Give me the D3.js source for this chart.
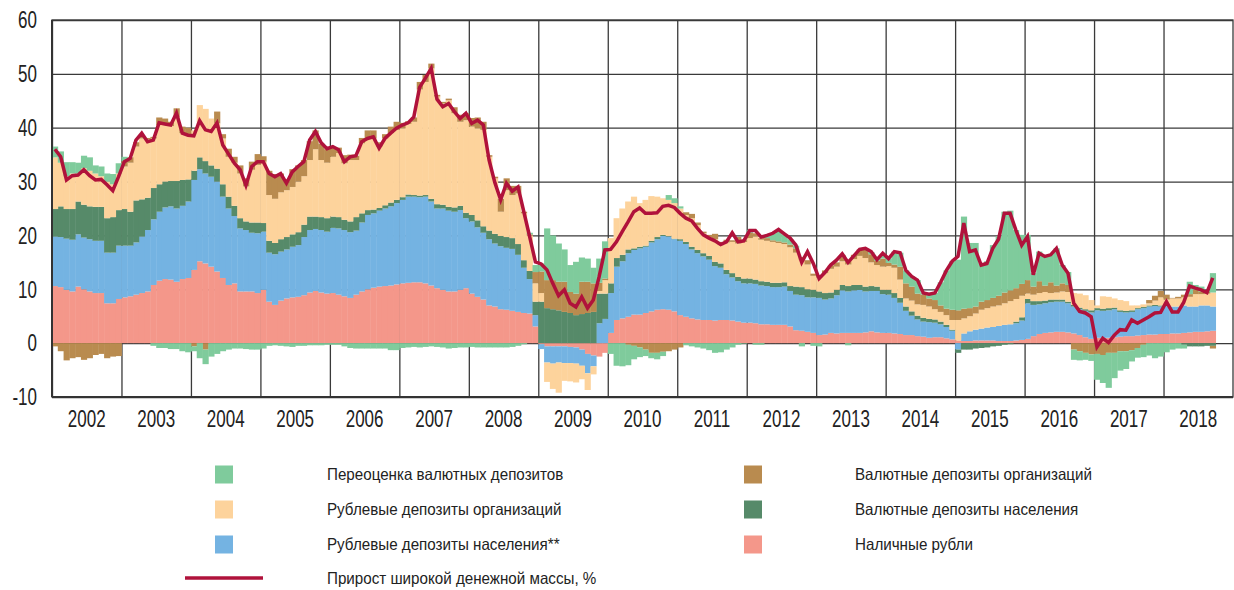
<!DOCTYPE html>
<html>
<head>
<meta charset="utf-8">
<script src="https://cdn.jsdelivr.net/npm/d3@7"></script>
<style>
  body { margin: 0; background: #fff; }
  svg { display: block; font-family: "Liberation Sans", Arial, sans-serif; }
</style>
</head>
<body>
<svg id="chart" width="1234" height="590"></svg>
<script>
// x categories: years (monthly data Jan 2002 - Sep 2018)
const years = [2002, 2003, 2004, 2005, 2006, 2007, 2008, 2009, 2010, 2011, 2012, 2013, 2014, 2015, 2016, 2017, 2018];
const yTicks = [-10, 0, 10, 20, 30, 40, 50, 60];

// contributions, p.p. (one row per year)
const cash = [
  10.6,10.4,9.9,9.6,10.5,10.0,9.6,9.3,9.3,7.4,7.4,8.2,
  8.5,8.7,9.0,9.3,9.6,10.8,11.6,11.9,11.8,11.4,11.9,12.1,
  13.6,15.2,14.8,14.2,13.3,12.1,10.8,11.1,9.6,9.6,9.6,9.3,
  9.9,7.7,7.1,7.9,8.3,8.5,8.6,8.9,9.4,9.7,9.4,9.2,
  9.3,9.0,8.7,8.4,9.0,9.6,10.0,10.3,10.5,10.6,10.7,10.9,
  11.1,11.2,11.3,11.3,11.1,10.7,10.2,9.9,9.6,9.6,9.9,10.2,
  9.2,8.6,8.1,7.0,6.8,6.3,6.2,6.0,5.8,5.6,5.5,3.1,
  -0.2,-0.6,-0.6,-0.6,-0.6,-0.7,-0.8,-1.2,-2.0,-2.3,-2.5,-1.8,
  1.9,4.3,4.6,4.9,5.3,5.3,5.6,5.9,6.2,6.3,6.2,5.9,
  5.2,4.9,4.6,4.4,4.3,4.3,4.2,4.3,4.3,4.2,4.0,3.8,
  3.8,3.7,3.5,3.5,3.4,3.4,3.4,3.1,2.4,2.3,2.1,1.9,
  1.5,1.6,1.9,1.8,1.9,1.9,1.9,1.9,2.0,2.2,2.0,1.9,
  1.9,1.8,1.7,1.5,1.5,1.3,1.2,1.0,1.1,1.1,0.9,0.7,
  0.5,0.4,0.4,0.5,0.5,0.5,0.5,0.4,0.4,0.4,0.5,0.6,
  0.8,1.3,1.7,1.9,2.0,2.1,2.1,2.0,1.8,1.5,1.1,0.8,
  1.0,1.0,1.0,1.1,1.2,1.3,1.3,1.4,1.5,1.6,1.6,1.7,
  1.7,1.8,1.8,1.9,2.0,2.1,2.1,2.2,2.3
];
const rubHouse = [
  9.2,9.3,9.5,9.6,9.7,9.6,9.7,9.7,9.7,9.4,9.4,9.9,
  9.6,9.4,9.7,10.5,11.4,12.2,12.8,13.3,13.6,13.6,13.6,14.2,
  16.7,17.1,16.7,16.7,16.7,15.1,14.2,12.5,11.7,11.4,10.9,11.1,
  10.8,9.1,9.4,9.1,9.1,9.4,9.6,10.8,11.6,11.5,11.6,11.5,
  12.1,12.3,12.3,12.2,11.9,12.8,13.8,13.8,14.1,14.4,14.7,15.1,
  15.5,16.0,15.9,15.8,16.1,15.6,14.8,15.1,15.0,14.8,14.8,13.0,
  13.4,12.9,12.4,12.3,11.7,11.7,11.5,11.5,10.6,8.4,6.4,2.1,
  -0.9,-3.0,-3.2,-3.0,-3.1,-3.0,-3.0,-3.0,-3.6,-2.0,3.7,4.5,
  7.4,9.9,10.6,11.8,12.0,12.3,12.3,12.8,13.1,13.6,13.6,13.4,
  13.8,13.5,12.8,12.3,11.8,11.2,10.1,9.7,8.5,8.0,7.5,7.3,
  7.3,7.3,7.2,7.1,7.0,7.0,7.1,6.6,6.6,6.6,6.4,6.6,
  6.9,6.5,6.4,7.1,7.9,7.7,7.9,8.0,7.6,7.5,7.7,7.2,
  7.1,6.6,5.8,4.5,3.6,3.1,2.8,2.9,2.7,2.4,2.1,1.6,
  -1.2,1.4,1.8,2.0,2.2,2.4,2.5,2.8,3.0,3.1,3.2,3.6,
  6.6,5.8,5.5,5.5,5.6,5.6,5.6,5.4,5.0,4.8,4.9,4.9,
  5.1,5.0,5.1,5.2,4.6,4.4,4.5,4.9,5.0,5.2,5.3,5.1,
  5.2,5.0,5.0,5.1,4.8,4.7,4.9,4.8,4.5
];
const fxHouse = [
  5.1,5.7,5.5,5.7,6.1,6.1,6.1,6.3,6.3,6.4,6.6,6.6,
  6.8,6.3,7.8,6.9,6.0,5.8,5.1,4.8,4.7,5.1,4.8,4.1,
  1.7,2.2,2.3,2.1,2.4,2.3,2.2,1.9,1.9,1.6,1.9,2.0,
  1.6,2.2,2.1,2.3,2.3,2.3,2.4,2.3,2.5,2.3,2.4,2.5,
  2.1,2.1,1.9,2.0,2.5,1.7,0.9,0.7,0.5,0.6,0.7,0.6,
  0.5,0.4,0.3,0.3,0.3,0.5,0.8,0.7,0.7,0.8,0.8,1.0,
  1.2,1.3,1.2,1.6,1.8,1.9,2.0,2.0,2.0,1.4,1.5,2.5,
  7.7,6.5,6.3,6.1,5.8,5.6,5.2,5.4,5.6,5.8,5.5,4.7,
  1.8,1.6,1.2,0.7,0.3,0.3,0.2,0.3,0.4,0.2,0.1,0.1,
  0.3,0.4,0.5,0.6,0.6,0.7,0.8,0.8,0.8,0.8,0.8,0.9,
  0.9,0.8,0.8,0.8,0.8,0.8,0.8,0.9,1.5,1.5,1.5,1.4,
  1.2,1.2,1.1,1.0,1.0,1.0,1.0,0.9,0.9,0.9,0.8,0.8,
  0.9,0.9,0.9,0.8,0.8,0.7,0.7,0.6,0.6,0.5,0.4,0.2,
  -0.6,-1.2,-1.2,-1.0,-0.9,-0.8,-0.6,-0.5,-0.3,-0.2,0.3,0.6,
  0.8,0.7,0.6,0.5,0.5,0.4,0.4,0.3,0.3,0.3,0.3,0.4,
  0.4,0.4,0.4,0.3,0.3,0.3,0.3,0.2,0.2,0.2,0.2,0.2,
  0,0,0,-0.3,-0.6,-0.6,-0.6,-0.5,-0.5
];
const rubOrg = [
  9.6,8.1,6.1,6.6,5.2,6.8,6.6,6.2,5.7,6.8,6.1,6.8,
  7.9,9.1,10.0,11.3,10.8,9.2,11.0,10.5,10.2,11.9,8.7,8.1,
  7.5,9.7,9.7,8.7,8.4,8.5,7.4,8.0,8.3,6.5,9.8,10.7,
  11.4,8.5,8.2,8.7,8.7,8.8,9.4,9.0,10.5,12.5,10.6,10.3,
  11.1,11.9,10.5,11.4,10.6,13.0,13.3,13.2,11.4,12.4,12.9,13.0,
  12.8,13.1,13.6,19.7,21.0,24.2,20.0,18.8,19.8,17.5,15.6,17.2,
  16.4,17.1,17.9,13.7,10.3,4.5,8.7,8.0,9.4,8.7,6.6,3.4,
  1.6,-3.6,-4.7,-5.6,-3.3,-3.4,-3.5,-2.5,-3.1,-1.5,0.5,2.5,
  8.4,7.4,8.6,8.9,9.6,8.1,8.5,8.3,7.5,6.8,6.7,6.6,
  5.7,5.0,5.3,4.6,3.7,3.4,4.2,3.4,5.1,5.8,6.2,6.8,
  7.5,8.0,7.7,7.6,7.6,7.4,7.1,7.2,6.3,5.0,4.6,2.6,
  2.6,3.7,4.4,4.3,4.4,4.0,4.8,5.4,5.3,4.4,4.0,4.3,
  4.4,4.7,3.4,1.5,2.0,2.1,2.4,2.3,1.9,1.8,1.8,1.8,
  3.8,2.8,2.8,3.0,3.5,3.6,3.8,3.8,4.0,4.3,4.2,4.0,
  1.0,1.2,1.5,1.6,1.2,1.3,1.5,1.8,2.2,2.6,2.6,1.9,
  0.5,2.3,2.1,1.7,1.9,1.8,0.9,0.5,0.5,0.4,0.8,1.5,
  1.2,1.5,1.5,1.5,1.8,2.3,2.1,2.2,2.6
];
const fxOrg = [
  -0.6,-1.5,-3.2,-2.8,-2.6,-3.1,-2.8,-2.2,-2.0,-2.8,-2.5,-2.4,
  1.0,1.0,0.8,0.6,0.3,0.3,1.4,1.2,0.8,1.6,1.2,1.5,
  -0.6,0,-1.2,0,2.2,0.8,1.5,1.1,1.5,1.5,1.5,2.0,
  1.0,4.5,4.6,3.5,1.8,3.3,3.0,3.0,3.5,3.5,3.0,2.5,
  1.8,1.0,1.5,1.0,0.8,1.0,1.5,1.5,0.8,0.8,1.2,1.5,
  1.0,0.5,0.8,1.4,1.3,0.9,0.3,0.3,0.3,1.1,1.3,1.3,
  1.6,2.0,1.5,0.3,0.3,2.4,2.2,1.7,1.4,0.3,0.2,2.1,
  4.0,5.2,5.4,5.3,5.6,3.9,4.0,6.0,5.8,5.3,1.5,0.3,
  0,0,0,-0.3,-0.5,-0.8,-1.2,-1.8,-1.8,-1.6,-1.5,-1.2,
  -0.8,0.5,0.8,0.5,0.3,0.5,1.0,0.6,0.5,0.3,1.2,0.3,
  1.0,0.6,0.3,0.5,0.3,0.3,0.3,0.5,0.8,0.6,0.8,0.4,
  0.3,0.5,0.6,0.8,1.2,0.6,0.8,1.2,1.5,1.5,0.8,1.5,
  0.6,0.6,2.4,2.8,2.6,2.0,1.9,1.5,1.7,1.2,1.2,1.9,
  1.8,1.8,1.5,1.3,1.5,1.5,1.6,1.8,2.0,2.0,2.0,2.2,
  2.5,1.5,2.2,1.2,2.0,1.3,1.5,1.3,-1.2,-1.5,-1.8,-2.1,
  -2.0,-2.2,-1.8,-1.8,-1.5,-1.5,-1.3,-0.9,-0.3,0.6,0.9,1.2,
  0.9,0.1,0.3,0.5,0.5,0.8,0.5,0.3,-0.5
];
const reval = [
  2.0,2.1,2.6,2.1,2.0,2.3,2.5,1.5,1.8,1.5,1.9,1.9,
  0.8,0,0,0,0,-0.5,-0.9,-0.9,-1.1,-1.1,-1.5,-1.7,
  -0.9,-2.8,-2.7,-2.5,-2.0,-1.5,-1.2,-1.0,-1.0,-1.1,-1.2,-1.2,
  -1.0,-0.5,-0.4,-0.5,-0.6,-0.7,-0.5,-0.5,-0.4,-0.4,-0.4,-0.3,
  -0.3,-0.3,-0.6,-0.9,-1.0,-1.0,-1.0,-1.0,-1.0,-1.0,-1.3,-1.3,
  -0.9,-0.8,-0.7,-0.8,-0.7,-0.6,-0.7,-0.8,-1.0,-0.9,-0.8,-0.8,
  -0.7,-0.8,-0.8,-0.8,-0.8,-0.8,-0.8,-0.7,-0.5,-0.2,0.3,1.3,
  1.5,9.6,8.3,7.1,6.0,5.0,5.9,4.5,4.3,2.9,4.5,6.9,
  -2.0,-4.2,-4.3,-3.8,-2.5,-1.8,-1.2,-1.0,-1.2,-0.8,0.9,0.9,
  0.4,-0.4,-0.6,-0.8,-1.0,-1.3,-1.8,-1.7,-1.2,-0.8,-0.3,-0.1,
  0.5,-0.3,-0.3,0.6,1.3,2.0,1.5,1.0,0.5,-0.6,0,-0.5,
  -0.6,0,0,0,0,-0.4,0,0,0,0.4,0.6,0.8,
  0.8,2.4,2.6,2.4,1.9,2.5,0.3,0.8,1.3,4.3,7.1,9.0,
  9.4,17.1,12.1,11.8,7.1,7.2,9.8,11.0,15.0,14.8,10.8,9.1,
  8.4,2.5,5.5,5.5,5.2,6.9,3.4,2.4,-1.9,-1.7,-1.3,-1.2,
  -4.8,-5.2,-6.5,-4.7,-3.6,-3.3,-2.1,-1.8,-2.3,-2.3,-2.8,-2.5,
  -1.7,-1.2,-1.0,-0.7,2.3,0.9,0.9,0.4,3.6
];
// broad money growth, % y/y
const growth = [
  36.0,34.6,30.3,31.1,31.2,32.2,31.1,30.3,30.4,29.4,28.3,30.9,
  33.7,34.3,37.7,39.0,37.4,37.7,40.9,40.7,40.5,42.7,39.0,38.6,
  38.5,41.3,39.6,39.3,40.9,36.8,35.1,33.4,32.2,29.3,32.8,33.7,
  33.7,31.5,30.9,31.5,29.7,31.8,32.8,33.7,37.7,39.3,37.2,36.1,
  36.5,35.9,33.7,34.6,34.8,37.4,38.0,38.3,36.2,38.0,39.0,39.9,
  40.5,40.9,42.0,47.5,49.2,51.0,45.3,43.9,44.5,43.0,41.7,42.7,
  40.8,41.4,40.5,34.0,29.8,26.6,29.7,28.2,29.0,24.4,19.8,15.1,
  14.7,13.6,11.1,8.8,9.9,7.4,6.7,8.6,6.5,8.0,12.3,17.3,
  17.4,18.8,20.7,22.5,24.4,25.1,24.1,24.1,24.2,25.4,25.6,25.2,
  24.1,23.2,22.7,21.3,20.1,19.5,19.0,18.3,18.8,20.5,18.8,19.0,
  20.9,20.9,19.7,20.0,20.4,21.1,20.3,19.5,18.2,15.0,17.0,14.8,
  12.0,13.1,14.5,15.4,16.6,15.0,16.2,17.4,17.6,17.0,15.5,16.7,
  15.7,17.0,16.8,13.5,12.4,11.7,9.3,9.1,9.3,11.3,13.5,15.2,
  16.1,22.3,17.0,17.3,14.5,14.8,17.6,19.3,24.1,24.1,21.0,18.2,
  19.8,12.7,16.7,16.1,16.4,17.6,14.5,13.0,7.4,5.9,5.6,4.9,
  -0.7,0.9,0.1,1.5,2.5,2.4,4.3,3.7,4.3,4.9,5.6,5.7,
  7.7,5.8,5.8,7.6,10.6,10.2,9.9,9.4,12.1
];

const keys = ["cash", "rubHouse", "fxHouse", "rubOrg", "fxOrg", "reval"];
const colors = {
  cash: "#f4978a", rubHouse: "#74b3e2", fxHouse: "#568a69",
  rubOrg: "#fdd39c", fxOrg: "#b98b4f", reval: "#7fcb9c"
};
const names = {
  reval: "Переоценка валютных депозитов",
  rubOrg: "Рублевые депозиты организаций",
  rubHouse: "Рублевые депозиты населения**",
  fxOrg: "Валютные депозиты организаций",
  fxHouse: "Валютные депозиты населения",
  cash: "Наличные рубли"
};
const lineName = "Прирост широкой денежной массы, %";
const lineColor = "#b0123b";

const svg = d3.select("#chart");
const plotLeft = 52, plotRight = 1233, plotTop = 20, plotBottom = 397;
const nMonths = years.length * 12;
// narrow the fallback sans to look like the condensed face of the original
const tickScale = "scale(0.74,1)";
const legendScale = "scale(0.92,1)";

const x = d3.scaleLinear().domain([0, nMonths]).range([plotLeft, plotRight]);
const y = d3.scaleLinear().domain([-10, 60]).range([plotBottom, plotTop]);

const rows = growth.map((g, i) => ({
  i: i, cash: cash[i], rubHouse: rubHouse[i], fxHouse: fxHouse[i],
  rubOrg: rubOrg[i], fxOrg: fxOrg[i], reval: reval[i], growth: g
}));

// grid
svg.append("g")
   .attr("class", "ygrid")
   .attr("transform", `translate(${plotLeft},0)`)
   .call(d3.axisLeft(y).tickValues(yTicks).tickSize(-(plotRight - plotLeft)).tickFormat(""))
   .call(g => g.select(".domain").remove())
   .call(g => g.selectAll("line").attr("stroke", "#3a3a3a").attr("stroke-width", 1.3));

svg.append("g")
   .attr("class", "xgrid")
   .attr("transform", `translate(0,${plotBottom})`)
   .call(d3.axisBottom(x).tickValues(years.map((yr, k) => k * 12)).tickSize(-(plotBottom - plotTop)).tickFormat(""))
   .call(g => g.select(".domain").remove())
   .call(g => g.selectAll("line").attr("stroke", "#3a3a3a").attr("stroke-width", 1.3));

// stacked bars
const series = d3.stack().keys(keys).offset(d3.stackOffsetDiverging)(rows);

svg.append("g").selectAll("g")
   .data(series)
   .enter()
   .append("g")
   .attr("fill", d => colors[d.key])
   .selectAll("rect")
   .data(d => d)
   .enter()
   .append("rect")
   .attr("x", d => x(d.data.i))
   .attr("width", d => x(d.data.i + 1) - x(d.data.i) + 0.4)
   .attr("y", d => y(Math.max(d[0], d[1])))
   .attr("height", d => Math.abs(y(d[0]) - y(d[1])));

// frame
svg.append("rect")
   .attr("x", plotLeft).attr("y", plotTop)
   .attr("width", plotRight - plotLeft).attr("height", plotBottom - plotTop)
   .attr("fill", "none").attr("stroke", "#3a3a3a").attr("stroke-width", 1.3);
svg.append("line")
   .attr("x1", plotLeft).attr("x2", plotLeft).attr("y1", plotTop).attr("y2", plotBottom)
   .attr("stroke", "#333").attr("stroke-width", 2);
svg.append("line")
   .attr("x1", plotLeft).attr("x2", plotRight).attr("y1", plotBottom).attr("y2", plotBottom)
   .attr("stroke", "#333").attr("stroke-width", 2);

// growth line
const line = d3.line()
   .x(d => x(d.i + 0.5))
   .y(d => y(d.growth));

svg.append("path")
   .datum(rows)
   .attr("fill", "none")
   .attr("stroke", lineColor)
   .attr("stroke-width", 3.5)
   .attr("stroke-linejoin", "miter")
   .attr("d", line);

// y tick labels
svg.append("g").attr("class", "ylabels")
   .selectAll("g")
   .data(yTicks)
   .enter()
   .append("g")
   .attr("transform", d => `translate(37,${y(d)}) ${tickScale}`)
   .append("text")
   .attr("text-anchor", "end")
   .attr("dy", "0.36em")
   .attr("font-size", 23)
   .attr("fill", "#222")
   .text(d => String(d));

// year labels, centred in each year band
svg.append("g").attr("class", "xlabels")
   .selectAll("g")
   .data(years)
   .enter()
   .append("g")
   .attr("transform", (d, k) => `translate(${x(k * 12 + 6)},427) ${tickScale}`)
   .append("text")
   .attr("text-anchor", "middle")
   .attr("font-size", 23)
   .attr("fill", "#222")
   .text(d => d);

// legend
const legendLeft = ["reval", "rubOrg", "rubHouse"];
const legendRight = ["fxOrg", "fxHouse", "cash"];
const rowY = [474.5, 509.5, 544.5];

function legendText(tx, ty, label) {
  svg.append("g")
     .attr("transform", `translate(${tx},${ty}) ${legendScale}`)
     .append("text")
     .attr("dy", "0.36em")
     .attr("font-size", 16.5)
     .attr("fill", "#222")
     .text(label);
}

function legendCol(list, sx, tx) {
  list.forEach((k, j) => {
    svg.append("rect").attr("x", sx).attr("y", rowY[j] - 9).attr("width", 18).attr("height", 18)
       .attr("fill", colors[k]);
    legendText(tx, rowY[j], names[k]);
  });
}
legendCol(legendLeft, 215, 327);
legendCol(legendRight, 744, 855);

svg.append("line")
   .attr("x1", 185).attr("x2", 263).attr("y1", 578).attr("y2", 578)
   .attr("stroke", lineColor).attr("stroke-width", 3.5);
legendText(327, 578, lineName);
</script>
</body>
</html>
